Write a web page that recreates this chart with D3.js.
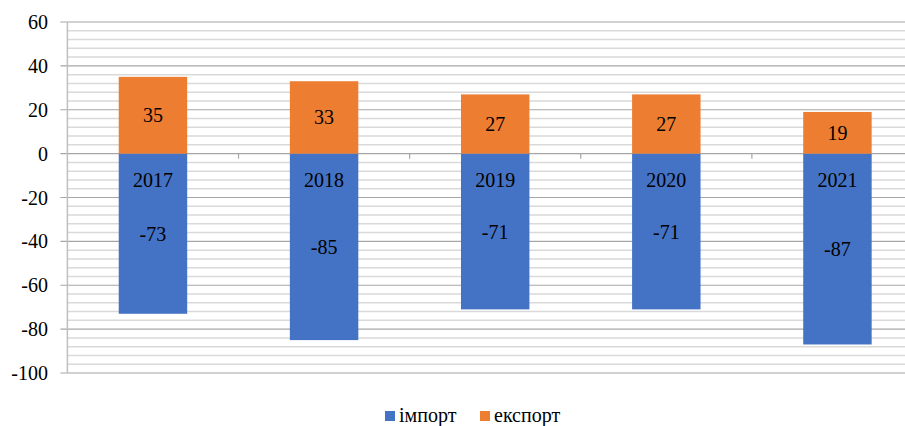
<!DOCTYPE html>
<html>
<head>
<meta charset="utf-8">
<script src="https://cdn.jsdelivr.net/npm/d3@7"></script>
<style>
  body { margin: 0; background: #fff; }
  svg { display: block; }
  svg text { font-family: "Liberation Serif", "Times New Roman", serif; }
</style>
</head>
<body>
<svg id="chart"></svg>
<script>
const years = ["2017", "2018", "2019", "2020", "2021"];
const exportVals = [35, 33, 27, 27, 19];
const importVals = [-73, -85, -71, -71, -87];
const majorTicks = [60, 40, 20, 0, -20, -40, -60, -80, -100];
const seriesNames = ["імпорт", "експорт"];
const seriesColors = ["#4472C4", "#ED7D31"];

const svgWidth = 905, svgHeight = 426;
const margin = {top: 22, left: 67.4, bottom: 53};
const plotRight = 923; // plot runs past the right edge in the original

const chart = d3.select("#chart")
    .attr("width", svgWidth)
    .attr("height", svgHeight)
    .attr("font-family", "Liberation Serif, serif");

var xScale = d3.scaleBand().domain(years).range([margin.left, plotRight]).paddingInner(0.6).paddingOuter(0.3);
var xBand = d3.scaleBand().domain(years).range([margin.left, plotRight]);
var yScale = d3.scaleLinear().domain([-100, 60]).range([svgHeight - margin.bottom, margin.top]);

// minor grid every 4
var minorTicks = d3.range(-100, 61, 4).filter(v => v % 20 != 0);
chart.append("g")
    .selectAll("line")
    .data(minorTicks)
    .enter().append("line")
    .attr("x1", margin.left).attr("x2", svgWidth)
    .attr("y1", d => yScale(d)).attr("y2", d => yScale(d))
    .attr("stroke", "#d9d9d9")
    .attr("stroke-width", 1.5);

// major grid
chart.append("g")
    .selectAll("line")
    .data(majorTicks)
    .enter().append("line")
    .attr("x1", margin.left - 7).attr("x2", svgWidth)
    .attr("y1", d => yScale(d)).attr("y2", d => yScale(d))
    .attr("stroke", "#a6a6a6")
    .attr("stroke-width", 1.2);

// y axis line
chart.append("line")
    .attr("x1", margin.left).attr("x2", margin.left)
    .attr("y1", yScale(60)).attr("y2", yScale(-100))
    .attr("stroke", "#bfbfbf")
    .attr("stroke-width", 1.5);

// y labels
chart.append("g")
    .selectAll("text")
    .data(majorTicks)
    .enter().append("text")
    .attr("x", 48)
    .attr("y", d => yScale(d))
    .attr("dy", "0.35em")
    .attr("text-anchor", "end")
    .attr("font-size", 20)
    .attr("fill", "#000")
    .text(d => d);

// category ticks on zero line
chart.append("g")
    .selectAll("line")
    .data(years.slice(1))
    .enter().append("line")
    .attr("x1", d => xBand(d)).attr("x2", d => xBand(d))
    .attr("y1", yScale(0)).attr("y2", yScale(0) + 5)
    .attr("stroke", "#a6a6a6")
    .attr("stroke-width", 1.2);

var data = years.map((y, i) => ({year: y, imp: importVals[i], exp: exportVals[i]}));

// import bars
chart.append("g")
    .selectAll("rect")
    .data(data)
    .enter().append("rect")
    .attr("x", d => xScale(d.year))
    .attr("width", xScale.bandwidth())
    .attr("y", yScale(0))
    .attr("height", d => yScale(d.imp) - yScale(0))
    .attr("fill", seriesColors[0]);

// export bars
chart.append("g")
    .selectAll("rect")
    .data(data)
    .enter().append("rect")
    .attr("x", d => xScale(d.year))
    .attr("width", xScale.bandwidth())
    .attr("y", d => yScale(d.exp))
    .attr("height", d => yScale(0) - yScale(d.exp))
    .attr("fill", seriesColors[1]);

// value labels
var labels = chart.append("g")
    .attr("font-size", 20)
    .attr("text-anchor", "middle")
    .attr("fill", "#000");

labels.selectAll(".exp")
    .data(data)
    .enter().append("text")
    .attr("x", d => xScale(d.year) + xScale.bandwidth() / 2)
    .attr("y", d => (yScale(d.exp) + yScale(0)) / 2)
    .attr("dy", "0.35em")
    .text(d => d.exp);

labels.selectAll(".imp")
    .data(data)
    .enter().append("text")
    .attr("x", d => xScale(d.year) + xScale.bandwidth() / 2)
    .attr("y", d => (yScale(d.imp) + yScale(0)) / 2)
    .attr("dy", "0.35em")
    .text(d => d.imp);

// category labels sit inside the blue bars
labels.selectAll(".yr")
    .data(years)
    .enter().append("text")
    .attr("x", d => xScale(d) + xScale.bandwidth() / 2)
    .attr("y", yScale(0) + 26)
    .attr("dy", "0.35em")
    .text(d => d);

// legend
var legend = chart.append("g").attr("font-size", 20);
var legendX = [385, 480];
seriesNames.forEach(function(name, i) {
    legend.append("rect")
        .attr("x", legendX[i]).attr("y", 411)
        .attr("width", 10).attr("height", 10)
        .attr("fill", seriesColors[i]);
    legend.append("text")
        .attr("x", legendX[i] + 14)
        .attr("y", 422)
        .attr("fill", "#000")
        .text(name);
});
</script>
</body>
</html>
